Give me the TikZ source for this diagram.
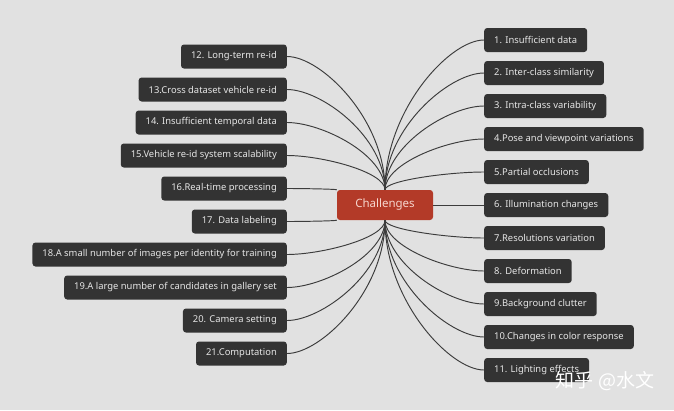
\documentclass[tikz,border=0pt]{standalone}
\usepackage{fontspec}
\setmainfont{Noto Sans}
\newfontfamily\cjkfont{Noto Sans CJK SC}
\usetikzlibrary{calc}
\definecolor{bgcol}{HTML}{E1E1E1}
\definecolor{boxcol}{HTML}{333333}
\definecolor{txtcol}{HTML}{E6E6E6}
\definecolor{rootcol}{HTML}{B33A28}
\definecolor{roottxt}{HTML}{F6D6CE}
\definecolor{linecol}{HTML}{3C3C3C}
\tikzset{
  item/.style={fill=boxcol, text=txtcol, rounded corners=3pt, minimum height=24pt,
    inner xsep=10pt, inner ysep=2pt, font=\fontsize{9.4}{11}\selectfont},
  rootbox/.style={fill=rootcol, text=roottxt, rounded corners=3pt, minimum width=96pt,
    minimum height=30pt, font=\fontsize{11.5}{13}\selectfont},
  link/.style={draw=linecol, line width=0.95pt},
  wmark/.style={text=white, font=\cjkfont\fontsize{19}{22}\selectfont}
}
\newcommand{\mmlink}[2]{\path (#1|-#2) coordinate (mmk);
  \draw[link] (#1) .. controls ($(#1)!0.53!(mmk)$) and ($(mmk)!0.65!(#2)$) .. (#2);}
\begin{document}
\begin{tikzpicture}[x=1pt,y=-1pt]
\fill[bgcol] (0,0) rectangle (674,410);
\useasboundingbox (0,0) rectangle (674,410);
% right side
\node[item, anchor=west] (b1) at (484,40) {1. Insufficient data};
\node[item, anchor=west] (b2) at (484,73) {2. Inter-class similarity};
\node[item, anchor=west] (b3) at (484,106) {3. Intra-class variability};
\node[item, anchor=west] (b4) at (484,139) {4.Pose and viewpoint variations};
\node[item, anchor=west] (b5) at (484,172) {5.Partial occlusions};
\node[item, anchor=west] (b6) at (484,205) {6. Illumination changes};
\node[item, anchor=west] (b7) at (484,238) {7.Resolutions variation};
\node[item, anchor=west] (b8) at (484,271) {8. Deformation};
\node[item, anchor=west] (b9) at (484,304) {9.Background clutter};
\node[item, anchor=west] (b10) at (484,337) {10.Changes in color response};
\node[item, anchor=west] (b11) at (484,370) {11. Lighting effects};
% left side
\node[item, anchor=east] (b12) at (287,56.5) {12. Long-term re-id};
\node[item, anchor=east] (b13) at (287,89.5) {13.Cross dataset vehicle re-id};
\node[item, anchor=east] (b14) at (287,122.5) {14. Insufficient temporal data};
\node[item, anchor=east] (b15) at (287,155.5) {15.Vehicle re-id system scalability};
\node[item, anchor=east] (b16) at (287,188.5) {16.Real-time processing};
\node[item, anchor=east] (b17) at (287,221.5) {17. Data labeling};
\node[item, anchor=east] (b18) at (287,254.5) {18.A small number of images per identity for training};
\node[item, anchor=east] (b19) at (287,287.5) {19.A large number of candidates in gallery set};
\node[item, anchor=east] (b20) at (287,320.5) {20. Camera setting};
\node[item, anchor=east] (b21) at (287,353.5) {21.Computation};
% root
\node[rootbox] (c) at (385,205) {Challenges};
% connectors
\foreach \b in {b1,b2,b3,b4,b5} {\mmlink{c.north}{\b.west}}
\foreach \b in {b12,b13,b14,b15} {\mmlink{c.north}{\b.east}}
\foreach \b in {b7,b8,b9,b10,b11} {\mmlink{c.south}{\b.west}}
\foreach \b in {b18,b19,b20,b21} {\mmlink{c.south}{\b.east}}
\mmlink{c.north west}{b16.east}
\mmlink{c.south west}{b17.east}
\draw[link] (c.east) -- (b6.west);
% watermark
\node[wmark] (wm) at (605,381) {知乎 @水文};
\end{tikzpicture}
\end{document}
